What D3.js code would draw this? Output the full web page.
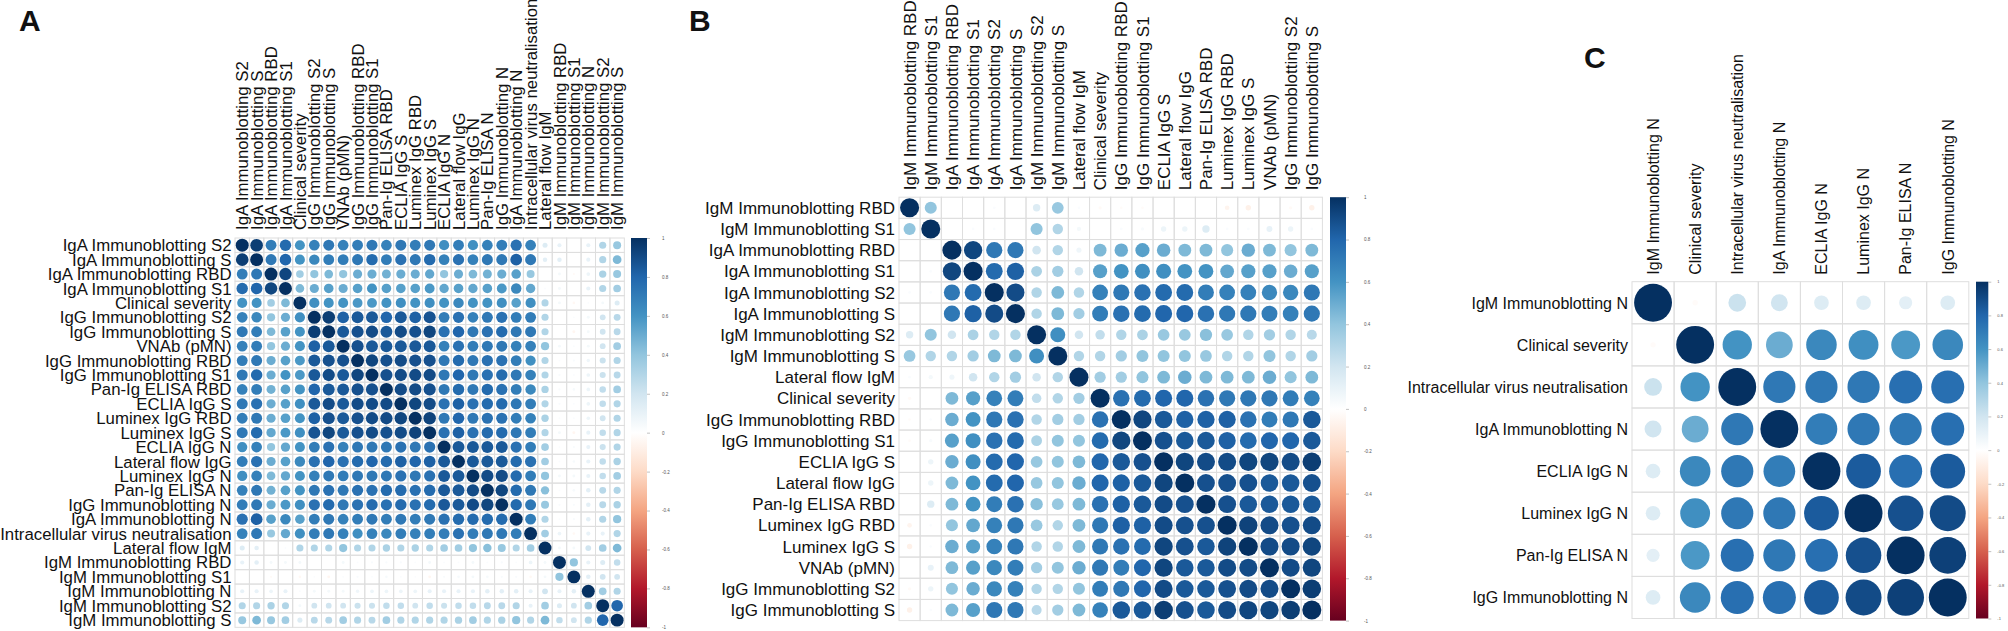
<!DOCTYPE html>
<html>
<head>
<meta charset="utf-8">
<script src="https://cdn.jsdelivr.net/npm/d3@7"></script>
<style>
  body { margin: 0; background: #fff; }
  svg { display: block; }
  text { font-family: "Liberation Sans", Arial, Helvetica, sans-serif; fill: #111; }
  .letter { font-family: "Liberation Sans Narrow", "Liberation Sans", Arial, sans-serif; font-weight: bold; }
</style>
</head>
<body>
<div id="chart"></div>
<script>
// Correlation matrices (lower triangle, row i holds columns 0..i-1, diagonal is 1)

// Panel A
const varsA = ["IgA Immunoblotting S2", "IgA Immunoblotting S", "IgA Immunoblotting RBD", "IgA Immunoblotting S1",
  "Clinical severity", "IgG Immunoblotting S2", "IgG Immunoblotting S", "VNAb (pMN)", "IgG Immunoblotting RBD",
  "IgG Immunoblotting S1", "Pan-Ig ELISA RBD", "ECLIA IgG S", "Luminex IgG RBD", "Luminex IgG S", "ECLIA IgG N",
  "Lateral flow IgG", "Luminex IgG N", "Pan-Ig ELISA N", "IgG Immunoblotting N", "IgA Immunoblotting N",
  "Intracellular virus neutralisation", "Lateral flow IgM", "IgM Immunoblotting RBD", "IgM Immunoblotting S1",
  "IgM Immunoblotting N", "IgM Immunoblotting S2", "IgM Immunoblotting S"];
const lowerA = [
  [],
  [0.95],
  [0.70, 0.72],
  [0.78, 0.80, 0.92],
  [0.60, 0.60, 0.35, 0.45],
  [0.68, 0.65, 0.40, 0.50, 0.62],
  [0.72, 0.70, 0.45, 0.55, 0.60, 0.95],
  [0.68, 0.70, 0.40, 0.50, 0.60, 0.82, 0.85],
  [0.70, 0.72, 0.50, 0.55, 0.58, 0.85, 0.88, 0.88],
  [0.72, 0.78, 0.50, 0.60, 0.58, 0.85, 0.90, 0.85, 0.92],
  [0.68, 0.70, 0.48, 0.55, 0.60, 0.80, 0.85, 0.85, 0.88, 0.88],
  [0.72, 0.75, 0.50, 0.55, 0.62, 0.85, 0.90, 0.85, 0.90, 0.90, 0.90],
  [0.70, 0.72, 0.50, 0.55, 0.60, 0.82, 0.88, 0.85, 0.88, 0.90, 0.90, 0.92],
  [0.72, 0.78, 0.52, 0.58, 0.62, 0.87, 0.92, 0.85, 0.88, 0.90, 0.88, 0.90, 0.93],
  [0.62, 0.68, 0.40, 0.52, 0.60, 0.70, 0.75, 0.68, 0.72, 0.72, 0.72, 0.75, 0.72, 0.75],
  [0.70, 0.75, 0.50, 0.55, 0.65, 0.75, 0.80, 0.75, 0.78, 0.80, 0.78, 0.82, 0.80, 0.82, 0.85],
  [0.62, 0.68, 0.45, 0.52, 0.60, 0.68, 0.72, 0.70, 0.72, 0.72, 0.72, 0.75, 0.72, 0.75, 0.85, 0.85],
  [0.68, 0.72, 0.48, 0.55, 0.60, 0.72, 0.75, 0.72, 0.75, 0.75, 0.78, 0.78, 0.75, 0.78, 0.85, 0.85, 0.90],
  [0.70, 0.72, 0.50, 0.58, 0.62, 0.75, 0.78, 0.72, 0.75, 0.78, 0.75, 0.78, 0.75, 0.78, 0.85, 0.85, 0.90, 0.92],
  [0.75, 0.82, 0.55, 0.65, 0.55, 0.70, 0.72, 0.68, 0.70, 0.72, 0.70, 0.72, 0.70, 0.72, 0.75, 0.78, 0.78, 0.78, 0.78],
  [0.68, 0.72, 0.38, 0.52, 0.62, 0.70, 0.72, 0.68, 0.62, 0.68, 0.65, 0.70, 0.68, 0.70, 0.70, 0.75, 0.70, 0.72, 0.72, 0.70],
  [0.15, 0.12, 0.00, 0.02, 0.30, 0.30, 0.30, 0.40, 0.30, 0.30, 0.32, 0.30, 0.32, 0.30, 0.35, 0.35, 0.40, 0.42, 0.38, 0.30, 0.35],
  [0.10, 0.12, 0.05, 0.05, 0.05, 0.00, 0.00, 0.05, 0.02, 0.03, 0.03, 0.03, 0.02, 0.05, 0.02, 0.02, 0.05, 0.02, 0.03, 0.02, 0.08, 0.05],
  [0.00, 0.00, -0.03, 0.00, -0.04, 0.02, -0.05, 0.02, 0.03, 0.02, 0.04, 0.02, 0.02, -0.05, 0.03, 0.04, 0.05, 0.04, 0.03, 0.03, -0.04, 0.05, 0.40],
  [0.10, 0.10, 0.08, 0.10, 0.02, 0.05, 0.05, 0.05, 0.07, 0.08, 0.08, 0.08, 0.08, 0.10, 0.10, 0.10, 0.10, 0.12, 0.12, 0.12, 0.10, 0.20, 0.10, 0.12],
  [0.30, 0.30, 0.32, 0.30, 0.05, 0.20, 0.20, 0.20, 0.22, 0.22, 0.25, 0.25, 0.20, 0.25, 0.22, 0.25, 0.25, 0.28, 0.28, 0.30, 0.10, 0.35, 0.15, 0.20, 0.35],
  [0.38, 0.45, 0.38, 0.35, 0.15, 0.28, 0.28, 0.35, 0.30, 0.28, 0.35, 0.30, 0.30, 0.30, 0.30, 0.32, 0.35, 0.30, 0.32, 0.40, 0.30, 0.45, 0.25, 0.20, 0.30, 0.80]
];

// Panel B
const varsB = ["IgM Immunoblotting RBD", "IgM Immunoblotting S1", "IgA Immunoblotting RBD", "IgA Immunoblotting S1",
  "IgA Immunoblotting S2", "IgA Immunoblotting S", "IgM Immunoblotting S2", "IgM Immunoblotting S", "Lateral flow IgM",
  "Clinical severity", "IgG Immunoblotting RBD", "IgG Immunoblotting S1", "ECLIA IgG S", "Lateral flow IgG",
  "Pan-Ig ELISA RBD", "Luminex IgG RBD", "Luminex IgG S", "VNAb (pMN)", "IgG Immunoblotting S2", "IgG Immunoblotting S"];
const lowerB = [
  [],
  [0.40],
  [0.00, 0.00],
  [0.00, 0.02, 0.92],
  [0.02, 0.02, 0.72, 0.78],
  [0.00, 0.00, 0.72, 0.82, 0.90],
  [0.15, 0.40, 0.20, 0.32, 0.30, 0.30],
  [0.38, 0.30, 0.30, 0.35, 0.45, 0.45, 0.62],
  [0.02, 0.05, 0.07, 0.20, 0.30, 0.35, 0.20, 0.30],
  [-0.03, 0.00, 0.45, 0.55, 0.68, 0.70, 0.25, 0.30, 0.35],
  [-0.02, 0.02, 0.50, 0.60, 0.72, 0.75, 0.30, 0.35, 0.35, 0.75],
  [-0.02, 0.03, 0.55, 0.62, 0.75, 0.78, 0.32, 0.40, 0.40, 0.78, 0.92],
  [0.00, 0.08, 0.50, 0.62, 0.78, 0.80, 0.38, 0.40, 0.45, 0.80, 0.85, 0.88],
  [0.00, 0.08, 0.45, 0.60, 0.78, 0.80, 0.38, 0.40, 0.50, 0.80, 0.82, 0.85, 0.92],
  [0.00, 0.15, 0.45, 0.60, 0.70, 0.75, 0.42, 0.38, 0.45, 0.75, 0.82, 0.85, 0.90, 0.88],
  [-0.06, 0.02, 0.40, 0.52, 0.68, 0.72, 0.38, 0.30, 0.45, 0.72, 0.82, 0.82, 0.90, 0.88, 0.88],
  [-0.08, 0.02, 0.50, 0.55, 0.68, 0.72, 0.30, 0.30, 0.45, 0.72, 0.75, 0.78, 0.92, 0.88, 0.85, 0.93],
  [0.00, 0.10, 0.45, 0.55, 0.65, 0.70, 0.35, 0.40, 0.50, 0.72, 0.70, 0.80, 0.92, 0.85, 0.85, 0.90, 0.90],
  [-0.03, 0.08, 0.40, 0.50, 0.65, 0.68, 0.30, 0.30, 0.40, 0.70, 0.72, 0.80, 0.90, 0.85, 0.85, 0.88, 0.90, 0.90],
  [-0.08, 0.02, 0.45, 0.55, 0.72, 0.72, 0.28, 0.35, 0.45, 0.68, 0.85, 0.85, 0.95, 0.88, 0.85, 0.90, 0.92, 0.92, 0.95]
];

// Panel C
const varsC = ["IgM Immunoblotting N", "Clinical severity", "Intracellular virus neutralisation", "IgA Immunoblotting N",
  "ECLIA IgG N", "Luminex IgG N", "Pan-Ig ELISA N", "IgG Immunoblotting N"];
const lowerC = [
  [],
  [-0.02],
  [0.22, 0.60],
  [0.20, 0.50, 0.72],
  [0.15, 0.65, 0.72, 0.70],
  [0.15, 0.62, 0.72, 0.72, 0.84],
  [0.12, 0.58, 0.76, 0.72, 0.76, 0.88],
  [0.15, 0.65, 0.76, 0.76, 0.84, 0.90, 0.94]
];

const barTicks = [1, 0.8, 0.6, 0.4, 0.2, 0, -0.2, -0.4, -0.6, -0.8, -1];
const rdbu = ["#67001F", "#B2182B", "#D6604D", "#F4A582", "#FDDBC7", "#FFFFFF",
              "#D1E5F0", "#92C5DE", "#4393C3", "#2166AC", "#053061"];

const W = 2008, H = 631;
const svg = d3.select("#chart").append("svg").attr("width", W).attr("height", H);
const defs = svg.append("defs");

const color = d3.scaleLinear()
    .domain(d3.range(rdbu.length).map(i => -1 + 2 * i / (rdbu.length - 1)))
    .range(rdbu)
    .interpolate(d3.interpolateRgb);

// gradient for the colour bars (top = +1)
const grad = defs.append("linearGradient").attr("id", "rdbu")
    .attr("x1", 0).attr("x2", 0).attr("y1", 1).attr("y2", 0);
grad.selectAll("stop").data(rdbu).enter().append("stop")
    .attr("offset", (d, i) => i / (rdbu.length - 1))
    .attr("stop-color", d => d);

function fullMatrix(lower) {
    const n = lower.length;
    return d3.range(n).map(i => d3.range(n).map(j =>
        i === j ? 1 : (i > j ? lower[i][j] : lower[j][i])));
}

function corrPanel(p) {
    const n = p.vars.length;
    const m = fullMatrix(p.lower);
    const size = n * p.cell;
    const g = svg.append("g");

    const x = d3.scaleBand().domain(d3.range(n)).range([p.left, p.left + size]);
    const y = d3.scaleBand().domain(d3.range(n)).range([p.top, p.top + size]);
    const r = d3.scaleSqrt().domain([0, 1]).range([0, 0.45 * p.cell]);

    const cells = [];
    m.forEach((row, i) => row.forEach((v, j) => cells.push({i, j, v})));

    // grid
    g.append("g").selectAll("rect").data(cells).enter().append("rect")
        .attr("x", d => x(d.j)).attr("y", d => y(d.i))
        .attr("width", x.bandwidth()).attr("height", y.bandwidth())
        .attr("fill", "none").attr("stroke", "#dedede").attr("stroke-width", 1);

    // circles
    g.append("g").selectAll("circle").data(cells).enter().append("circle")
        .attr("cx", d => x(d.j) + x.bandwidth() / 2)
        .attr("cy", d => y(d.i) + y.bandwidth() / 2)
        .attr("r", d => r(Math.abs(d.v)))
        .attr("fill", d => color(d.v));

    // row labels
    g.append("g").selectAll("text").data(p.vars).enter().append("text")
        .attr("x", p.left - p.rowGap)
        .attr("y", (d, i) => y(i) + y.bandwidth() / 2)
        .attr("dy", "0.36em")
        .attr("text-anchor", "end")
        .style("font-size", p.font + "px")
        .text(d => d);

    // column labels
    g.append("g").selectAll("text").data(p.vars).enter().append("text")
        .attr("transform", (d, i) => `translate(${x(i) + x.bandwidth() / 2},${p.top - p.colGap}) rotate(-90)`)
        .attr("dy", "0.36em")
        .attr("text-anchor", "start")
        .style("font-size", p.font + "px")
        .text(d => d);

    // colour bar
    const yb = d3.scaleLinear().domain([-1, 1]).range([p.top + size, p.top]);
    g.append("rect")
        .attr("x", p.barX).attr("y", yb(1))
        .attr("width", p.barW).attr("height", yb(-1) - yb(1))
        .attr("fill", "url(#rdbu)");
    const ax = g.append("g")
        .attr("transform", `translate(${p.barX + p.barW},0)`)
        .call(d3.axisRight(yb).tickValues(barTicks).tickSize(3).tickPadding(p.tickPad)
            .tickFormat(d => String(d)));
    ax.select(".domain").remove();
    ax.selectAll(".tick line").attr("stroke", "#999").attr("stroke-width", 0.6);
    ax.selectAll(".tick text").style("font-size", p.tickFont + "px").style("fill", "#555")
        .style("font-family", "Liberation Sans, Arial, sans-serif");

    // panel letter
    svg.append("text").attr("class", "letter")
        .attr("x", p.letterX).attr("y", p.letterY)
        .style("font-size", "30px")
        .text(p.letter);
}

corrPanel({letter: "A", letterX: 19, letterY: 31, vars: varsA, lower: lowerA,
    left: 235, top: 238, cell: 14.42, font: 16.8, rowGap: 3.5, colGap: 8,
    barX: 631, barW: 16, tickPad: 12, tickFont: 4.5});
corrPanel({letter: "B", letterX: 689, letterY: 31, vars: varsB, lower: lowerB,
    left: 899, top: 197.2, cell: 21.17, font: 17, rowGap: 4, colGap: 7,
    barX: 1330, barW: 16, tickPad: 15, tickFont: 4.5});
corrPanel({letter: "C", letterX: 1584, letterY: 68, vars: varsC, lower: lowerC,
    left: 1632, top: 281.7, cell: 42.1, font: 16, rowGap: 4, colGap: 7,
    barX: 1976, barW: 12.3, tickPad: 6, tickFont: 4});
</script>
</body>
</html>
